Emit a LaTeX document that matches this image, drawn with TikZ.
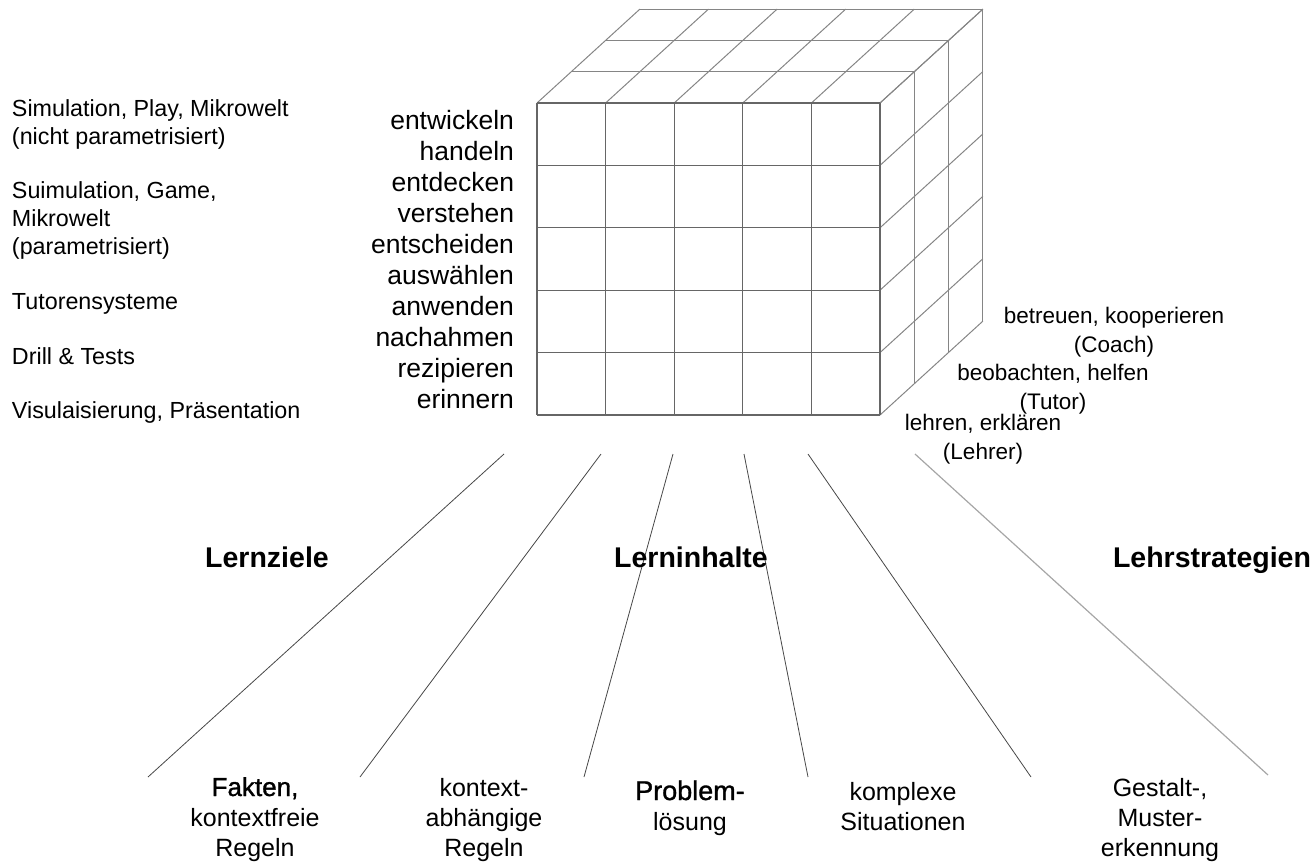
\documentclass[tikz,border=0pt]{standalone}
\usepackage{fontspec}
\setmainfont{Liberation Sans}
\newfontfamily\semibold[FakeBold=1.2]{Liberation Sans}
\begin{document}
\begin{tikzpicture}[x=1pt,y=-1pt,
  every node/.style={inner sep=0pt, outer sep=0pt},
  frontline/.style={draw=black!60, line width=1.1pt},
  cubeline/.style={draw=black!48, line width=1pt},
  fanline/.style={draw=black!72, line width=0.8pt},
  fanlight/.style={draw=black!35, line width=1.2pt},
  lefttext/.style={anchor=base west, font=\fontsize{23.3}{28}\selectfont},
  verbtext/.style={anchor=base east, font=\fontsize{26.5}{31}\selectfont},
  roletext/.style={anchor=base, align=center, font=\fontsize{22.5}{29}\selectfont},
  headtext/.style={anchor=base, font=\fontsize{28.5}{32}\selectfont\bfseries},
  bottext/.style={anchor=base, align=center, font=\fontsize{25}{30}\selectfont}
]
\useasboundingbox (0,0) rectangle (1315,862);
\def\X{537}\def\Y{103}\def\W{68.6}\def\H{62.4}\def\DX{34.3}\def\DY{31.3}
% top face
\foreach \k in {1,...,3}
  \draw[cubeline] (\X+\k*\DX, \Y-\k*\DY) -- (\X+5*\W+\k*\DX, \Y-\k*\DY);
\foreach \i in {0,...,5}
  \draw[cubeline] (\X+\i*\W, \Y) -- (\X+\i*\W+3*\DX, \Y-3*\DY);
% right face
\foreach \k in {1,...,3}
  \draw[cubeline] (\X+5*\W+\k*\DX, \Y-\k*\DY) -- (\X+5*\W+\k*\DX, \Y+5*\H-\k*\DY);
\foreach \j in {0,...,5}
  \draw[cubeline] (\X+5*\W, \Y+\j*\H) -- (\X+5*\W+3*\DX, \Y+\j*\H-3*\DY);
% front face
\foreach \i in {0,...,5}
  \draw[frontline] (\X+\i*\W, \Y) -- (\X+\i*\W, \Y+5*\H);
\foreach \j in {0,...,5}
  \draw[frontline] (\X, \Y+\j*\H) -- (\X+5*\W, \Y+\j*\H);

% left texts
\node[lefttext] (l1) at (12,116) {Simulation, Play, Mikrowelt};
\node[lefttext] (l2) at (12,144) {(nicht parametrisiert)};
\node[lefttext] (l3) at (12,198) {Suimulation, Game,};
\node[lefttext] (l4) at (12,226) {Mikrowelt};
\node[lefttext] (l5) at (12,254) {(parametrisiert)};
\node[lefttext] (l6) at (12,309) {Tutorensysteme};
\node[lefttext] (l7) at (12,364) {Drill \& Tests};
\node[lefttext] (l8) at (12,418) {Visulaisierung, Präsentation};

% verbs
\node[verbtext] (v1) at (514,129) {entwickeln};
\node[verbtext] (v2) at (514,160) {handeln};
\node[verbtext] (v3) at (514,191) {entdecken};
\node[verbtext] (v4) at (514,222) {verstehen};
\node[verbtext] (v5) at (514,253) {entscheiden};
\node[verbtext] (v6) at (514,284) {auswählen};
\node[verbtext] (v7) at (514,315) {anwenden};
\node[verbtext] (v8) at (514,346) {nachahmen};
\node[verbtext] (v9) at (514,377) {rezipieren};
\node[verbtext] (v10) at (514,408) {erinnern};

% roles (anchor at baseline of last line)
\node[roletext] (r1) at (1114,352) {betreuen, kooperieren\\(Coach)};
\node[roletext] (r2) at (1053,409) {beobachten, helfen\\(Tutor)};
\node[roletext] (r3) at (983,459) {lehren, erklären\\(Lehrer)};

% fan lines
\coordinate (f1a) at (504,454); \coordinate (f1b) at (148,777);
\coordinate (f2a) at (601,454); \coordinate (f2b) at (360,777);
\coordinate (f3a) at (673,454); \coordinate (f3b) at (584,777);
\coordinate (f4a) at (744,454); \coordinate (f4b) at (808,777);
\coordinate (f5a) at (808,454); \coordinate (f5b) at (1031,777);
\coordinate (f6a) at (915,454); \coordinate (f6b) at (1268,775);
\draw[fanline] (f1a) -- (f1b);
\draw[fanline] (f2a) -- (f2b);
\draw[fanline] (f3a) -- (f3b);
\draw[fanline] (f4a) -- (f4b);
\draw[fanline] (f5a) -- (f5b);
\draw[fanlight] (f6a) -- (f6b);

% headings
\node[headtext] (h1) at (267,567) {Lernziele};
\node[headtext] (h2) at (691,567) {Lerninhalte};
\node[headtext, anchor=base east] (h3) at (1311,567) {Lehrstrategien};

% bottom labels (anchor at baseline of last line)
\node[bottext] (b1) at (255,856) {{\semibold\fontsize{26}{30}\selectfont Fakten,}\\kontextfreie\\Regeln};
\node[bottext] (b2) at (484,856) {kontext-\\abhängige\\Regeln};
\node[bottext] (b3) at (690,830) {{\semibold\fontsize{27}{30}\selectfont Problem-}\\lösung};
\node[bottext] (b4) at (903,830) {komplexe\\Situationen};
\node[bottext] (b5) at (1160,856) {Gestalt-,\\Muster-\\erkennung};
\end{tikzpicture}
\end{document}
